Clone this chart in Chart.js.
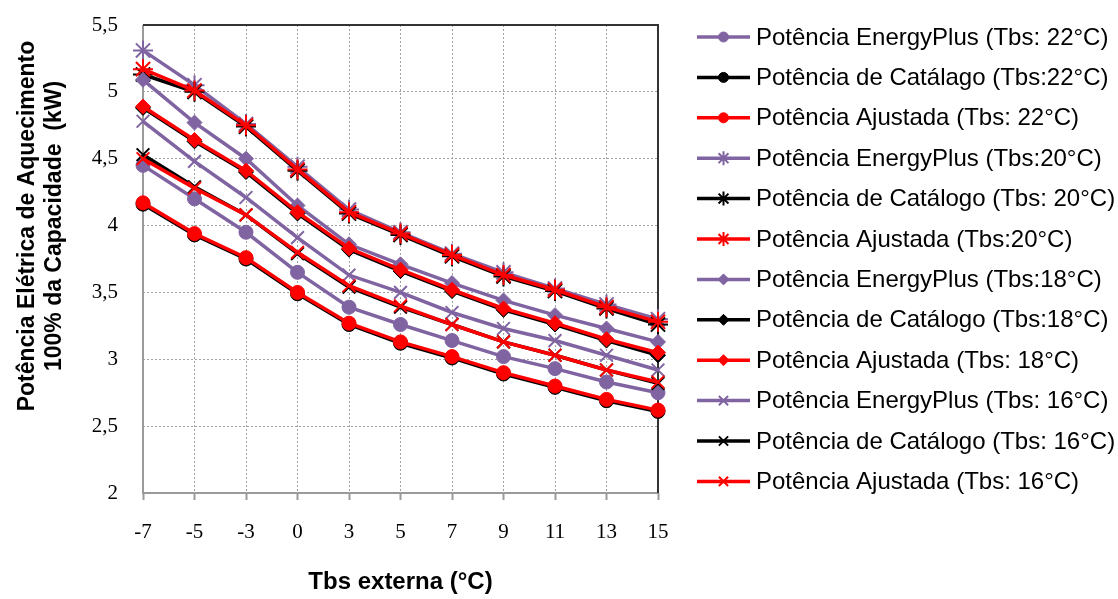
<!DOCTYPE html>
<html>
<head>
<meta charset="utf-8">
<script src="https://cdn.jsdelivr.net/npm/chart.js@4/dist/chart.umd.min.js"></script>
<style>
  html, body { margin: 0; padding: 0; background: #fff; }
  #wrap { width: 1118px; height: 599px; position: relative; }
</style>
</head>
<body>
<div id="wrap"><canvas id="c" width="1118" height="599"></canvas></div>
<script>
// Outdoor dry-bulb temperature (°C)
const categories = ['-7', '-5', '-3', '0', '3', '5', '7', '9', '11', '13', '15'];

// Heating electric power at 100% capacity (kW), by indoor dry-bulb temperature
const ep22  = [4.45, 4.20, 3.95, 3.65, 3.39, 3.26, 3.14, 3.02, 2.93, 2.83, 2.75];
const cat22 = [4.16, 3.93, 3.75, 3.49, 3.26, 3.12, 3.01, 2.89, 2.79, 2.69, 2.61];
const adj22 = [4.17, 3.94, 3.76, 3.50, 3.27, 3.13, 3.02, 2.90, 2.80, 2.70, 2.62];

const ep20  = [5.31, 5.05, 4.76, 4.44, 4.12, 3.95, 3.79, 3.65, 3.53, 3.41, 3.30];
const cat20 = [5.13, 5.00, 4.74, 4.41, 4.09, 3.93, 3.77, 3.62, 3.51, 3.38, 3.26];
const adj20 = [5.17, 5.01, 4.75, 4.42, 4.10, 3.94, 3.78, 3.63, 3.52, 3.39, 3.28];

const ep18  = [5.09, 4.77, 4.50, 4.15, 3.86, 3.71, 3.57, 3.44, 3.33, 3.23, 3.13];
const cat18 = [4.88, 4.63, 4.40, 4.09, 3.82, 3.66, 3.51, 3.37, 3.26, 3.14, 3.03];
const adj18 = [4.89, 4.64, 4.41, 4.10, 3.83, 3.67, 3.52, 3.38, 3.27, 3.15, 3.05];

const ep16  = [4.78, 4.48, 4.21, 3.91, 3.63, 3.50, 3.35, 3.23, 3.14, 3.03, 2.92];
const cat16 = [4.53, 4.29, 4.08, 3.79, 3.54, 3.39, 3.26, 3.13, 3.03, 2.92, 2.82];
const adj16 = [4.50, 4.28, 4.08, 3.80, 3.55, 3.40, 3.26, 3.13, 3.03, 2.92, 2.83];

const yTicks = [2, 2.5, 3, 3.5, 4, 4.5, 5, 5.5];

const seriesNames = [
  'Potência EnergyPlus (Tbs: 22°C)',
  'Potência de Catálago (Tbs:22°C)',
  'Potência Ajustada (Tbs: 22°C)',
  'Potência EnergyPlus (Tbs:20°C)',
  'Potência de Catálogo (Tbs: 20°C)',
  'Potência Ajustada (Tbs:20°C)',
  'Potência EnergyPlus (Tbs:18°C)',
  'Potência de Catálogo (Tbs:18°C)',
  'Potência Ajustada (Tbs: 18°C)',
  'Potência EnergyPlus (Tbs: 16°C)',
  'Potência de Catálogo (Tbs: 16°C)',
  'Potência Ajustada (Tbs: 16°C)'
];
const seriesData = [ep22, cat22, adj22, ep20, cat20, adj20, ep18, cat18, adj18, ep16, cat16, adj16];

const PURPLE = '#8064A2', BLACK = '#000000', RED = '#FF0000';
const colors = [PURPLE, BLACK, RED];
const markers = [
  { style: 'circle',   radius: 7,   border: 1, legendRadius: 5 },
  { style: 'star',     radius: 10,  border: 2, legendRadius: 7 },
  { style: 'rectRot',  radius: 7.5, border: 1, legendRadius: 5.5 },
  { style: 'crossRot', radius: 9,   border: 2, legendRadius: 6.5 }
];

const datasets = seriesData.map((vals, i) => {
  const col = colors[i % 3];
  const mk = markers[Math.floor(i / 3)];
  return {
    label: seriesNames[i],
    data: vals,
    borderColor: col,
    backgroundColor: col,
    borderWidth: 3.5,
    pointStyle: mk.style,
    pointRadius: mk.radius,
    pointBorderWidth: mk.border,
    pointBackgroundColor: col,
    pointBorderColor: col,
    tension: 0,
    order: -i,
    legendRadius: mk.legendRadius
  };
});

const AREA = { left: 143, right: 658, top: 25, bottom: 493 };

// Plot frame: grey left/bottom axes, dark top/right edges
const framePlugin = {
  id: 'frame',
  beforeDatasetsDraw(chart) {
    const { ctx, chartArea: a } = chart;
    ctx.save();
    ctx.lineWidth = 2;
    ctx.strokeStyle = '#9a9a9a';
    ctx.beginPath();
    ctx.moveTo(a.left, a.top); ctx.lineTo(a.left, a.bottom); ctx.lineTo(a.right, a.bottom);
    ctx.stroke();
    ctx.strokeStyle = '#333333';
    ctx.beginPath();
    ctx.moveTo(a.left, a.top); ctx.lineTo(a.right, a.top); ctx.lineTo(a.right, a.bottom);
    ctx.stroke();
    ctx.restore();
  }
};

// Two-line vertical y-axis title
const yTitlePlugin = {
  id: 'yTitle',
  afterDraw(chart) {
    const { ctx } = chart;
    ctx.save();
    ctx.fillStyle = '#000';
    ctx.font = 'bold 23px "Liberation Sans", Arial, sans-serif';
    ctx.textAlign = 'center';
    ctx.textBaseline = 'middle';
    ctx.translate(28, 226);
    ctx.rotate(-Math.PI / 2);
    ctx.fillText('Potência Elétrica de Aquecimento', 0, 0);
    ctx.fillText('100% da Capacidade  (kW)', 0, 27);
    ctx.restore();
  }
};

// Legend on the right: line segment with the series marker, then its name
const legendPlugin = {
  id: 'sideLegend',
  afterDraw(chart) {
    const { ctx } = chart;
    ctx.save();
    chart.data.datasets.forEach((ds, i) => {
      const y = 37 + i * 40.4;
      ctx.strokeStyle = ds.borderColor;
      ctx.fillStyle = ds.borderColor;
      ctx.lineWidth = 3.5;
      ctx.beginPath();
      ctx.moveTo(697, y); ctx.lineTo(750, y);
      ctx.stroke();
      ctx.lineWidth = ds.pointBorderWidth;
      Chart.helpers.drawPoint(ctx, {
        pointStyle: ds.pointStyle,
        radius: ds.legendRadius,
        rotation: 0,
        borderWidth: ds.pointBorderWidth
      }, 723.5, y);
      ctx.fillStyle = '#000';
      ctx.font = '24px "Liberation Sans", Arial, sans-serif';
      ctx.textAlign = 'left';
      ctx.textBaseline = 'middle';
      ctx.fillText(ds.label, 756, y + 1);
    });
    ctx.restore();
  }
};

new Chart(document.getElementById('c'), {
  type: 'line',
  data: { labels: categories, datasets },
  options: {
    responsive: false,
    animation: false,
    events: [],
    layout: { padding: { left: 0, right: 1118 - AREA.right, top: AREA.top, bottom: 0 } },
    plugins: { legend: { display: false }, tooltip: { enabled: false } },
    scales: {
      x: {
        type: 'category',
        offset: false,
        grid: {
          color: '#a0a0a0',
          lineWidth: 1,
          drawTicks: true,
          tickLength: 7,
          tickColor: '#9a9a9a',
          tickWidth: 2,
          tickBorderDash: []
        },
        border: { display: false, dash: [2, 2] },
        ticks: {
          color: '#000',
          padding: 20,
          maxRotation: 0,
          autoSkip: false,
          font: { family: '"Liberation Serif", "Times New Roman", serif', size: 21 }
        },
        title: {
          display: true,
          text: 'Tbs externa (°C)',
          color: '#000',
          padding: { top: 0, bottom: 2 },
          font: { family: '"Liberation Sans", Arial, sans-serif', size: 24, weight: 'bold' }
        },
        afterFit(scale) {
          scale.height = 599 - AREA.bottom;
          scale.paddingLeft = 0;
          scale.paddingRight = 0;
        }
      },
      y: {
        min: 2,
        max: 5.5,
        afterBuildTicks(scale) { scale.ticks = yTicks.map(v => ({ value: v })); },
        grid: { color: '#a0a0a0', lineWidth: 1, drawTicks: false },
        border: { display: false, dash: [2, 2] },
        ticks: {
          color: '#000',
          padding: 25,
          font: { family: '"Liberation Serif", "Times New Roman", serif', size: 21 },
          callback: v => String(v).replace('.', ',')
        },
        afterFit(scale) {
          scale.width = AREA.left;
          scale.paddingTop = 0;
          scale.paddingBottom = 0;
        }
      }
    }
  },
  plugins: [framePlugin, yTitlePlugin, legendPlugin]
});
</script>
</body>
</html>
